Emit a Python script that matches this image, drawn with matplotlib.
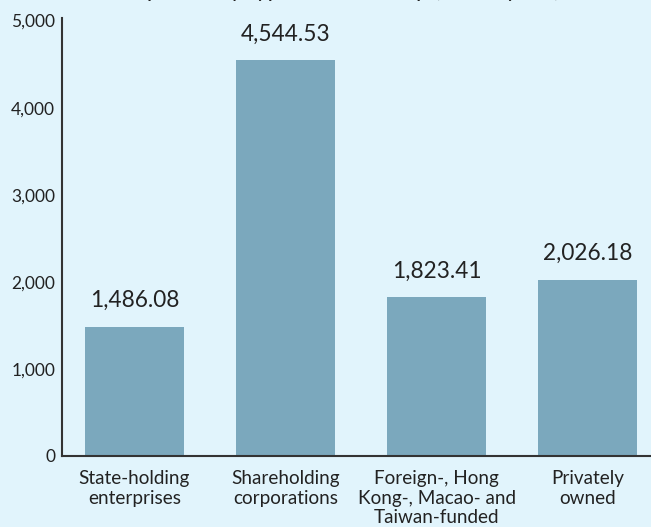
import matplotlib
matplotlib.use("Agg")
import matplotlib.pyplot as plt
from matplotlib.ticker import FuncFormatter

categories = ["State-holding\nenterprises", "Shareholding\ncorporations",
              "Foreign-, Hong\nKong-, Macao- and\nTaiwan-funded", "Privately\nowned"]
values = [1486.08, 4544.53, 1823.41, 2026.18]
yticks = [0, 1000, 2000, 3000, 4000, 5000]

bg = "#e1f4fc"
bar_color = "#7ba8bd"
text_color = "#222222"
plt.rcParams['font.family'] = ['Lato', 'DejaVu Sans']

fig = plt.figure(figsize=(6.51, 5.27), dpi=100, facecolor=bg)
ax = fig.add_axes([62/651, 1-456/527, (651-62)/651, (456-18)/527])
ax.set_facecolor(bg)

x = list(range(len(values)))
ax.bar(x, values, width=0.65, color=bar_color, zorder=2)
for xi, v in zip(x, values):
    ax.annotate(f"{v:,.2f}", (xi, v), xytext=(0, 11), textcoords="offset points",
                ha="center", va="bottom", fontsize=16.3, color=text_color)

ax.set_xlim(-0.48, 3.42)
ax.set_ylim(0, 5030)
ax.set_yticks(yticks)
ax.yaxis.set_major_formatter(FuncFormatter(lambda v, p: f"{v:,.0f}"))
ax.set_xticks(x)
ax.set_xticklabels(categories, fontsize=13.6, color=text_color, linespacing=1.2)
ax.tick_params(axis="y", length=0, labelsize=12.5, labelcolor=text_color, pad=5)
ax.tick_params(axis="x", length=0, pad=10)
for s in ["top", "right"]:
    ax.spines[s].set_visible(False)
for s in ["left", "bottom"]:
    ax.spines[s].set_color("#333333")
    ax.spines[s].set_linewidth(1.5)

fig.text(0.5, 1 + 3/527, "Total profits by type of ownership (billion yuan)",
         ha="center", va="baseline", fontsize=16.3, color=text_color)

fig.savefig("out.png", dpi=100, facecolor=bg)
